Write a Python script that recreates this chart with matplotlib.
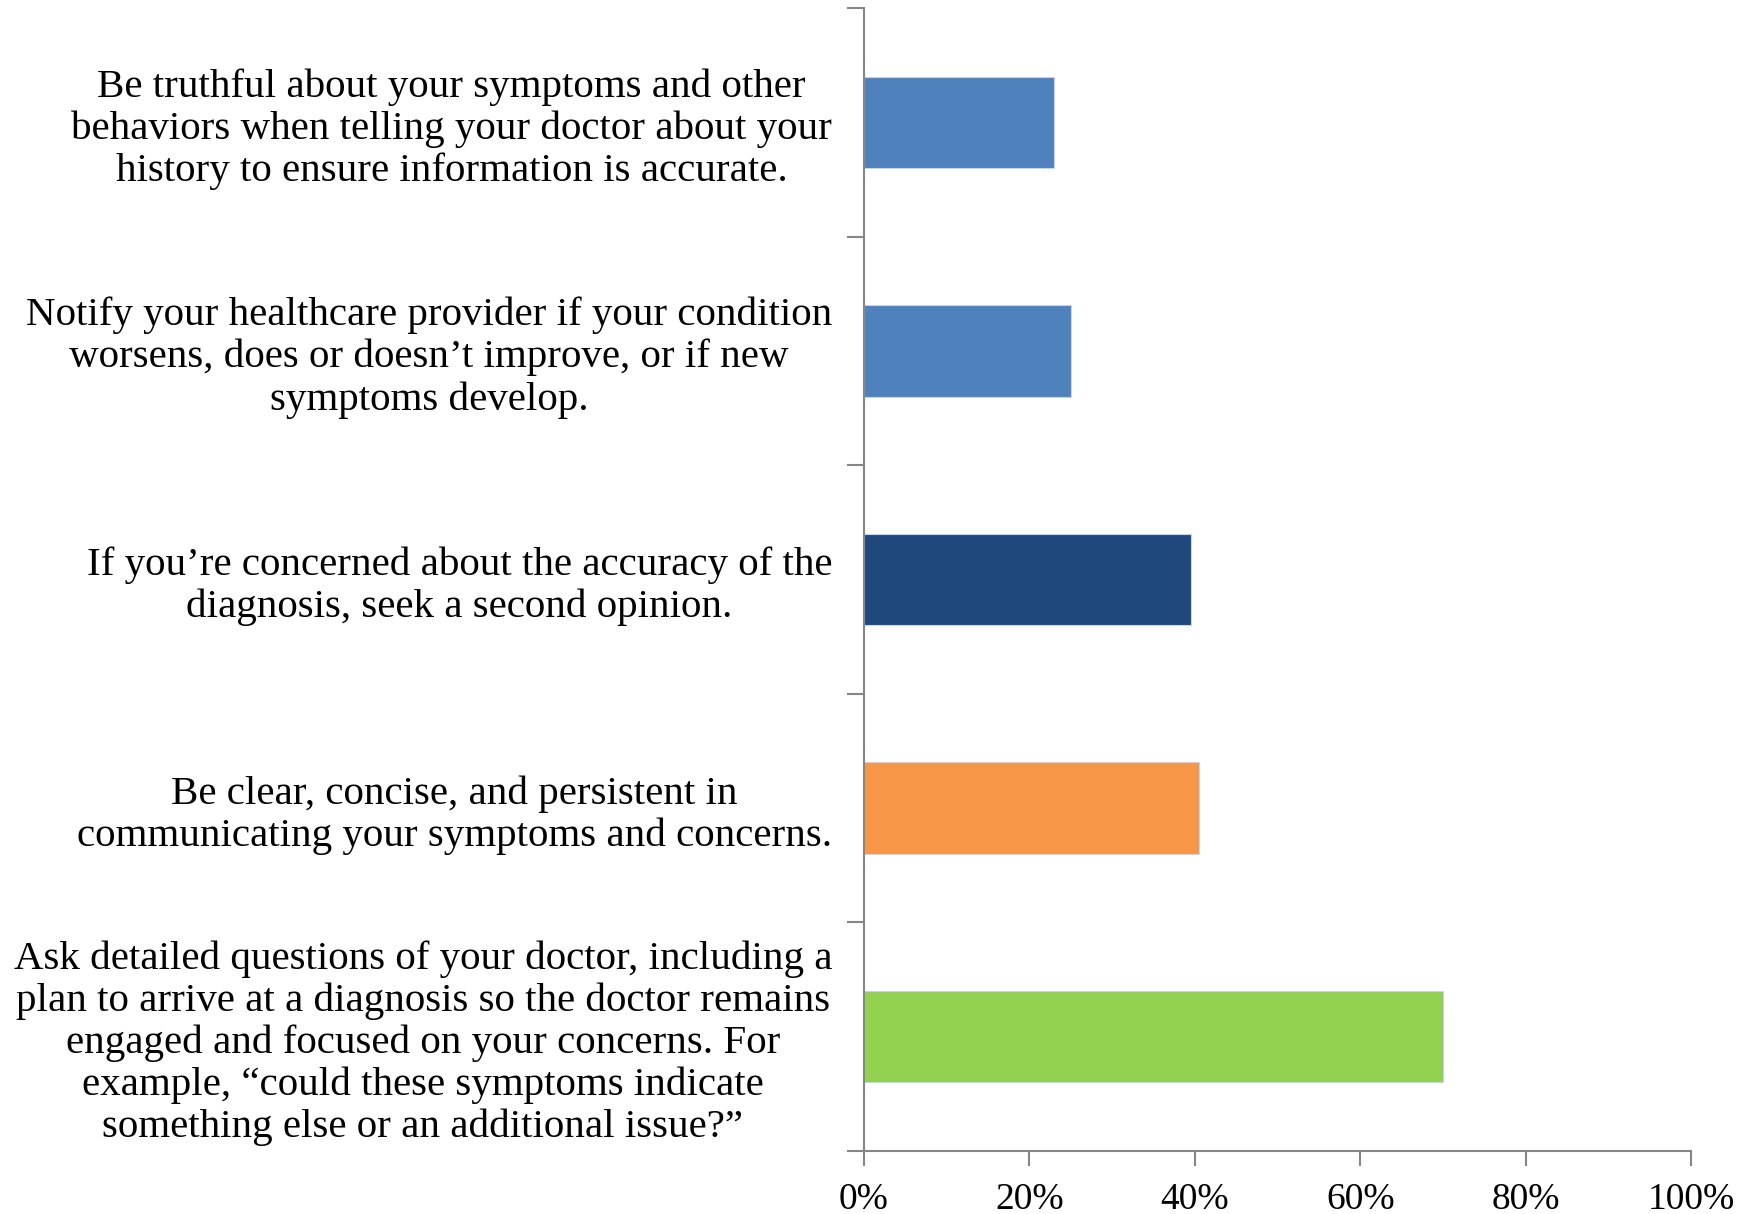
import numpy as np
import matplotlib.pyplot as plt
from matplotlib.ticker import MultipleLocator, FixedLocator, PercentFormatter

# Tips for getting the right diagnosis (share of respondents)
labels = [
    "Be truthful about your symptoms and other\nbehaviors when telling your doctor about your\nhistory to ensure information is accurate.",
    "Notify your healthcare provider if your condition\nworsens, does or doesn\u2019t improve, or if new\nsymptoms develop.",
    "If you\u2019re concerned about the accuracy of the\ndiagnosis, seek a second opinion.",
    "Be clear, concise, and persistent in\ncommunicating your symptoms and concerns.",
    "Ask detailed questions of your doctor, including a\nplan to arrive at a diagnosis so the doctor remains\nengaged and focused on your concerns. For\nexample, \u201ccould these symptoms indicate\nsomething else or an additional issue?\u201d",
]
values = [0.23, 0.25, 0.395, 0.405, 0.70]
colors = ['#4F81BD', '#4F81BD', '#1F497D', '#F79646', '#92D050']

plt.rcParams['font.family'] = ['Liberation Serif', 'DejaVu Serif']

fig = plt.figure(figsize=(17.56, 12.14), dpi=100)
ax = fig.add_axes([0.492, 0.052, 0.471, 0.9414])

y = np.arange(len(values))
ax.barh(y, values, height=0.4, color=colors, edgecolor='#c6d4e8', linewidth=0.8)

ax.set_ylim(len(values) - 0.5, -0.5)
ax.set_xlim(0, 1)

ax.set_yticks(y)
ax.set_yticklabels(labels, fontsize=29.5, ha='right', multialignment='center',
                   linespacing=1.16)
ax.yaxis.set_minor_locator(FixedLocator(np.arange(-0.5, len(values), 1.0)))
ax.tick_params(axis='y', which='major', length=0, pad=23)
ax.tick_params(axis='y', which='minor', length=12, width=1.5, color='#868686')

ax.xaxis.set_major_locator(MultipleLocator(0.2))
ax.xaxis.set_major_formatter(PercentFormatter(1.0, decimals=0))
ax.tick_params(axis='x', length=11, width=1.5, color='#868686', labelsize=27, pad=12)

for side in ['top', 'right']:
    ax.spines[side].set_visible(False)
for side in ['left', 'bottom']:
    ax.spines[side].set_color('#868686')
    ax.spines[side].set_linewidth(1.5)

fig.savefig('out.png', dpi=100)
plt.close(fig)
